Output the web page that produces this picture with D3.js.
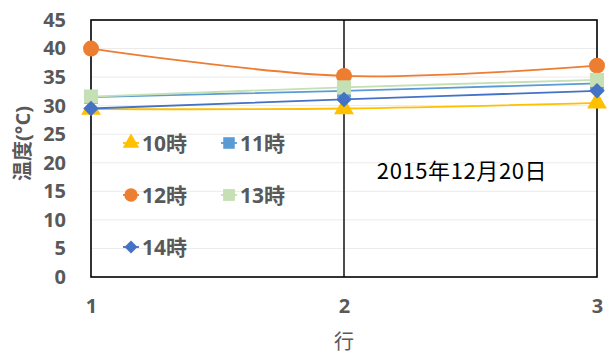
<!DOCTYPE html>
<html>
<head>
<meta charset="utf-8">
<script src="https://cdn.jsdelivr.net/npm/d3@7"></script>
<style>
  html, body { margin: 0; padding: 0; background: #fff; }
  svg { display: block; }
</style>
</head>
<body>
<svg id="chart" width="608" height="354"></svg>
<script>
// Row numbers along the x axis
const rows = [1, 2, 3];
// Temperature readings (°C) per hour
const t10 = [29.4, 29.5, 30.5];
const t11 = [31.5, 32.6, 33.9];
const t12 = [40.0, 35.2, 37.0];
const t13 = [31.6, 33.2, 34.5];
const t14 = [29.5, 31.1, 32.6];
const seriesNames = ["10時", "11時", "12時", "13時", "14時"];
const yTicks = [0, 5, 10, 15, 20, 25, 30, 35, 40, 45];
const dateLabel = "2015年12月20日";

const seriesValues = [t10, t11, t12, t13, t14];
const colors = ["#FFC000", "#5B9BD5", "#ED7D31", "#C5E0B4", "#4472C4"];
// marker kinds: triangle, square, circle, square, diamond (rotated square)
const symbols = [d3.symbolTriangle, d3.symbolSquare, d3.symbolCircle, d3.symbolSquare, d3.symbolSquare];
const symbolRot = [0, 0, 0, 0, 45];
const symbolSizes = [170, 190, 200, 200, 120];

const svg = d3.select("#chart");
const W = 608, H = 354;
const m = { left: 91, right: 11, top: 20, bottom: 77 };

const x = d3.scaleLinear().domain([1, 3]).range([m.left, W - m.right]);
const y = d3.scaleLinear().domain([0, 45]).range([H - m.bottom, m.top]);

const fontStack = "'Open Sans', 'Noto Sans CJK JP', sans-serif";
const gray = "#595959";

// horizontal gridlines
svg.append("g")
  .selectAll("line")
  .data(yTicks.filter(v => v > 0 && v < 45))
  .join("line")
  .attr("x1", x(1)).attr("x2", x(3))
  .attr("y1", d => y(d)).attr("y2", d => y(d))
  .attr("stroke", "#EBEBEB").attr("stroke-width", 1);

// plot frame and the middle divider
svg.append("rect")
  .attr("x", x(1)).attr("y", y(45))
  .attr("width", x(3) - x(1)).attr("height", y(0) - y(45))
  .attr("fill", "none").attr("stroke", "#000").attr("stroke-width", 1.6);
svg.append("line")
  .attr("x1", x(2)).attr("x2", x(2))
  .attr("y1", y(45)).attr("y2", y(0))
  .attr("stroke", "#000").attr("stroke-width", 1.4);

// y axis
const yAxis = d3.axisLeft(y).tickValues(yTicks).tickSize(0).tickPadding(25);
const gy = svg.append("g").attr("transform", `translate(${x(1)},0)`).call(yAxis);
gy.select(".domain").remove();
gy.selectAll("text")
  .attr("fill", gray).attr("font-size", 20).attr("font-weight", 700)
  .attr("font-family", fontStack);

// x axis
const xAxis = d3.axisBottom(x).tickValues(rows).tickFormat(d3.format("d")).tickSize(0).tickPadding(22);
const gx = svg.append("g").attr("transform", `translate(0,${y(0)})`).call(xAxis);
gx.select(".domain").remove();
gx.selectAll("text")
  .attr("fill", gray).attr("font-size", 20).attr("font-weight", 700)
  .attr("font-family", fontStack);

// axis titles
svg.append("text")
  .attr("transform", `translate(23,${(y(0) + y(45)) / 2 - 5}) rotate(-90)`)
  .attr("dy", "0.36em")
  .attr("text-anchor", "middle")
  .attr("fill", gray).attr("font-size", 20).attr("font-weight", 700)
  .attr("font-family", fontStack)
  .text("温度(°C)");
svg.append("text")
  .attr("x", x(2)).attr("y", 349)
  .attr("text-anchor", "middle")
  .attr("fill", gray).attr("font-size", 20).attr("font-weight", 400)
  .attr("font-family", "'Noto Sans CJK JP', sans-serif")
  .text("行");

// series lines (smoothed) and markers
const line = d3.line()
  .x((d, i) => x(rows[i]))
  .y(d => y(d))
  .curve(d3.curveCatmullRom.alpha(0.5));

const gSeries = svg.append("g");
seriesValues.forEach((vals, s) => {
  gSeries.append("path")
    .datum(vals)
    .attr("d", line)
    .attr("fill", "none")
    .attr("stroke", colors[s])
    .attr("stroke-width", 1.8);
});
seriesValues.forEach((vals, s) => {
  gSeries.append("g")
    .selectAll("path")
    .data(vals)
    .join("path")
    .attr("transform", (d, i) => `translate(${x(rows[i])},${y(d)}) rotate(${symbolRot[s]})`)
    .attr("d", d3.symbol().type(symbols[s]).size(symbolSizes[s]))
    .attr("fill", colors[s]);
});

// legend inside the plot
const legendPos = [
  { lx: 131, ly: 143 }, { lx: 229, ly: 143 },
  { lx: 131, ly: 195 }, { lx: 229, ly: 195 },
  { lx: 131, ly: 247 }
];
const gLegend = svg.append("g");
seriesNames.forEach((name, s) => {
  const p = legendPos[s];
  gLegend.append("line")
    .attr("x1", p.lx - 8).attr("x2", p.lx + 8)
    .attr("y1", p.ly).attr("y2", p.ly)
    .attr("stroke", colors[s]).attr("stroke-width", 1.8);
  gLegend.append("path")
    .attr("transform", `translate(${p.lx},${p.ly}) rotate(${symbolRot[s]})`)
    .attr("d", d3.symbol().type(symbols[s]).size(symbolSizes[s] * 0.7))
    .attr("fill", colors[s]);
  gLegend.append("text")
    .attr("x", p.lx + 11).attr("y", p.ly)
    .attr("dy", "0.36em")
    .attr("fill", gray).attr("font-size", 21).attr("font-weight", 700)
    .attr("font-family", fontStack)
    .text(name);
});

// date annotation
svg.append("text")
  .attr("x", 462).attr("y", 171)
  .attr("dy", "0.36em")
  .attr("text-anchor", "middle")
  .attr("fill", "#000").attr("font-size", 22)
  .attr("letter-spacing", 0.6)
  .attr("font-family", "'Noto Sans CJK JP', sans-serif")
  .text(dateLabel);
</script>
</body>
</html>
